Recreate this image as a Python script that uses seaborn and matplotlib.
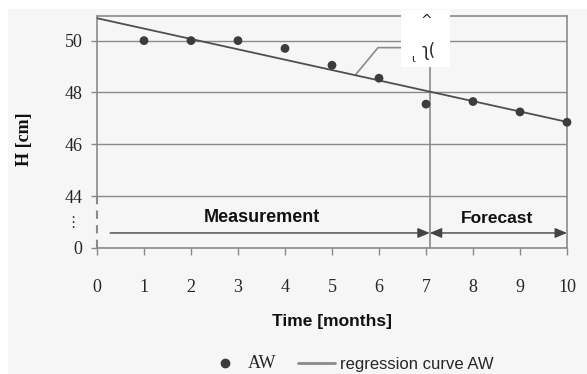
import numpy as np
import matplotlib
matplotlib.use('Agg')
import matplotlib.pyplot as plt
from matplotlib.patches import Rectangle
from matplotlib.lines import Line2D
import seaborn as sns

months = [1, 2, 3, 4, 5, 6, 7, 8, 9, 10]
height_aw = [50.0, 50.0, 50.0, 49.7, 49.05, 48.55, 47.55, 47.65, 47.25, 46.85]
n_measured = 7

x_ticks = list(range(0, 11))
y_ticks = [42, 44, 46, 48, 50]          # 42 stands in for 0 (broken axis)
y_tick_labels = ['0', '44', '46', '48', '50']
split_month = 7.08

sns.set_theme(style='ticks')
plt.rcParams['font.family'] = ['Liberation Serif', 'DejaVu Serif']

GRAY = '#8a8a8a'
BG = '#f6f6f6'
SANS = ['Liberation Sans', 'DejaVu Sans']

fig = plt.figure(figsize=(5.87, 3.74), dpi=100)
fig.patch.set_facecolor('white')
fig.add_artist(Rectangle((8 / 587, 0), 1, 365 / 374, transform=fig.transFigure,
                         facecolor=BG, edgecolor='none', zorder=-5))
ax = fig.add_axes([97 / 587, 1 - 248 / 374, 470 / 587, 232 / 374])
ax.set_facecolor(BG)
ax.set_xlim(0, 10)
ax.set_ylim(42, 50.95)

# regression over the measured months, extended across the whole axis
sns.regplot(x=months[:n_measured], y=height_aw[:n_measured], scatter=False, ci=None,
            truncate=False, ax=ax,
            line_kws=dict(color='#4f4f4f', lw=1.3, zorder=4))
sns.scatterplot(x=months, y=height_aw, ax=ax, color='#3c3c3c', s=40, edgecolor='none',
                zorder=6, clip_on=False)
ax.set_xlim(0, 10)
ax.set_ylim(42, 50.95)

ax.set_xticks(x_ticks)
ax.set_yticks(y_ticks)
ax.set_yticklabels(y_tick_labels)
ax.tick_params(axis='x', direction='out', length=5, width=1, color=GRAY, pad=17, labelsize=13)
ax.tick_params(axis='y', direction='out', length=4.5, width=1, color=GRAY, pad=6, labelsize=13)
ax.grid(axis='y', color=GRAY, lw=1)
ax.grid(axis='x', visible=False)
for s in ax.spines.values():
    s.set_color(GRAY)
    s.set_linewidth(1.2)
ax.spines['left'].set_bounds(44, 50.95)
ax.plot([0, 0], [42, 44], color=GRAY, lw=1.5, dashes=(4, 3), clip_on=False, zorder=3)
ax.text(-0.52, 42.97, '\u22ee', ha='center', va='center', fontsize=11,
        family=['DejaVu Sans'], color='#333333')

ax.axvline(split_month, color=GRAY, lw=1.2, zorder=2)

# measurement / forecast arrows
ax.annotate('', xy=(split_month, 42.58), xytext=(0.28, 42.58),
            arrowprops=dict(arrowstyle='-|>,head_length=0.6,head_width=0.25',
                            color='#444444', lw=1, shrinkA=0, shrinkB=0))
ax.annotate('', xy=(10, 42.58), xytext=(split_month, 42.58),
            arrowprops=dict(arrowstyle='<|-|>,head_length=0.6,head_width=0.25',
                            color='#444444', lw=1, shrinkA=0, shrinkB=0))
ax.text(3.5, 43.17, 'Measurement', ha='center', va='center', fontsize=13,
        fontweight='bold', family=SANS, color='#111111')
ax.text(8.52, 43.12, 'Forecast', ha='center', va='center', fontsize=12.5,
        fontweight='bold', family=SANS, color='#111111')

# callout to the regression line with the white label box
ax.plot([5.49, 5.98, 6.47], [48.66, 49.73, 49.73], color=GRAY, lw=1.2, zorder=3)
ax.add_patch(Rectangle((6.47, 49.0), 1.04, 2.2, facecolor='white', edgecolor='none',
                       zorder=7, clip_on=False))
ax.text(7.0, 50.75, '^', ha='center', va='center', fontsize=10, zorder=8,
        family=['DejaVu Sans'], color='#222222')
ax.text(6.72, 49.3, '\u0269', ha='center', va='center', fontsize=8, zorder=8,
        family=['DejaVu Sans'], color='#222222')
ax.text(7.05, 49.6, '\u0285(', ha='center', va='center', fontsize=12, zorder=8,
        family=['DejaVu Sans'], color='#222222')

ax.set_xlabel('Time [months]', fontsize=12.5, fontweight='bold', family=SANS, color='#111111')
ax.set_ylabel('H [cm]', fontsize=13, fontweight='bold', color='#111111')
ax.xaxis.set_label_coords(0.499, -0.284)
ax.yaxis.set_label_coords(-0.136, 0.468)

handles = [Line2D([], [], marker='o', ls='none', color='#3c3c3c', ms=6),
           Line2D([], [], color='#8a8a8a', lw=2)]
leg = fig.legend(handles, ['AW', 'regression curve AW'], loc='center',
                 bbox_to_anchor=(350 / 587, 1 - 364 / 374), ncol=2, frameon=False,
                 handlelength=2.2, handletextpad=0.3, columnspacing=1.3, fontsize=12)
leg.get_texts()[0].set_fontsize(13)
leg.get_texts()[1].set_family(SANS)

fig.savefig('out.png', dpi=100)
